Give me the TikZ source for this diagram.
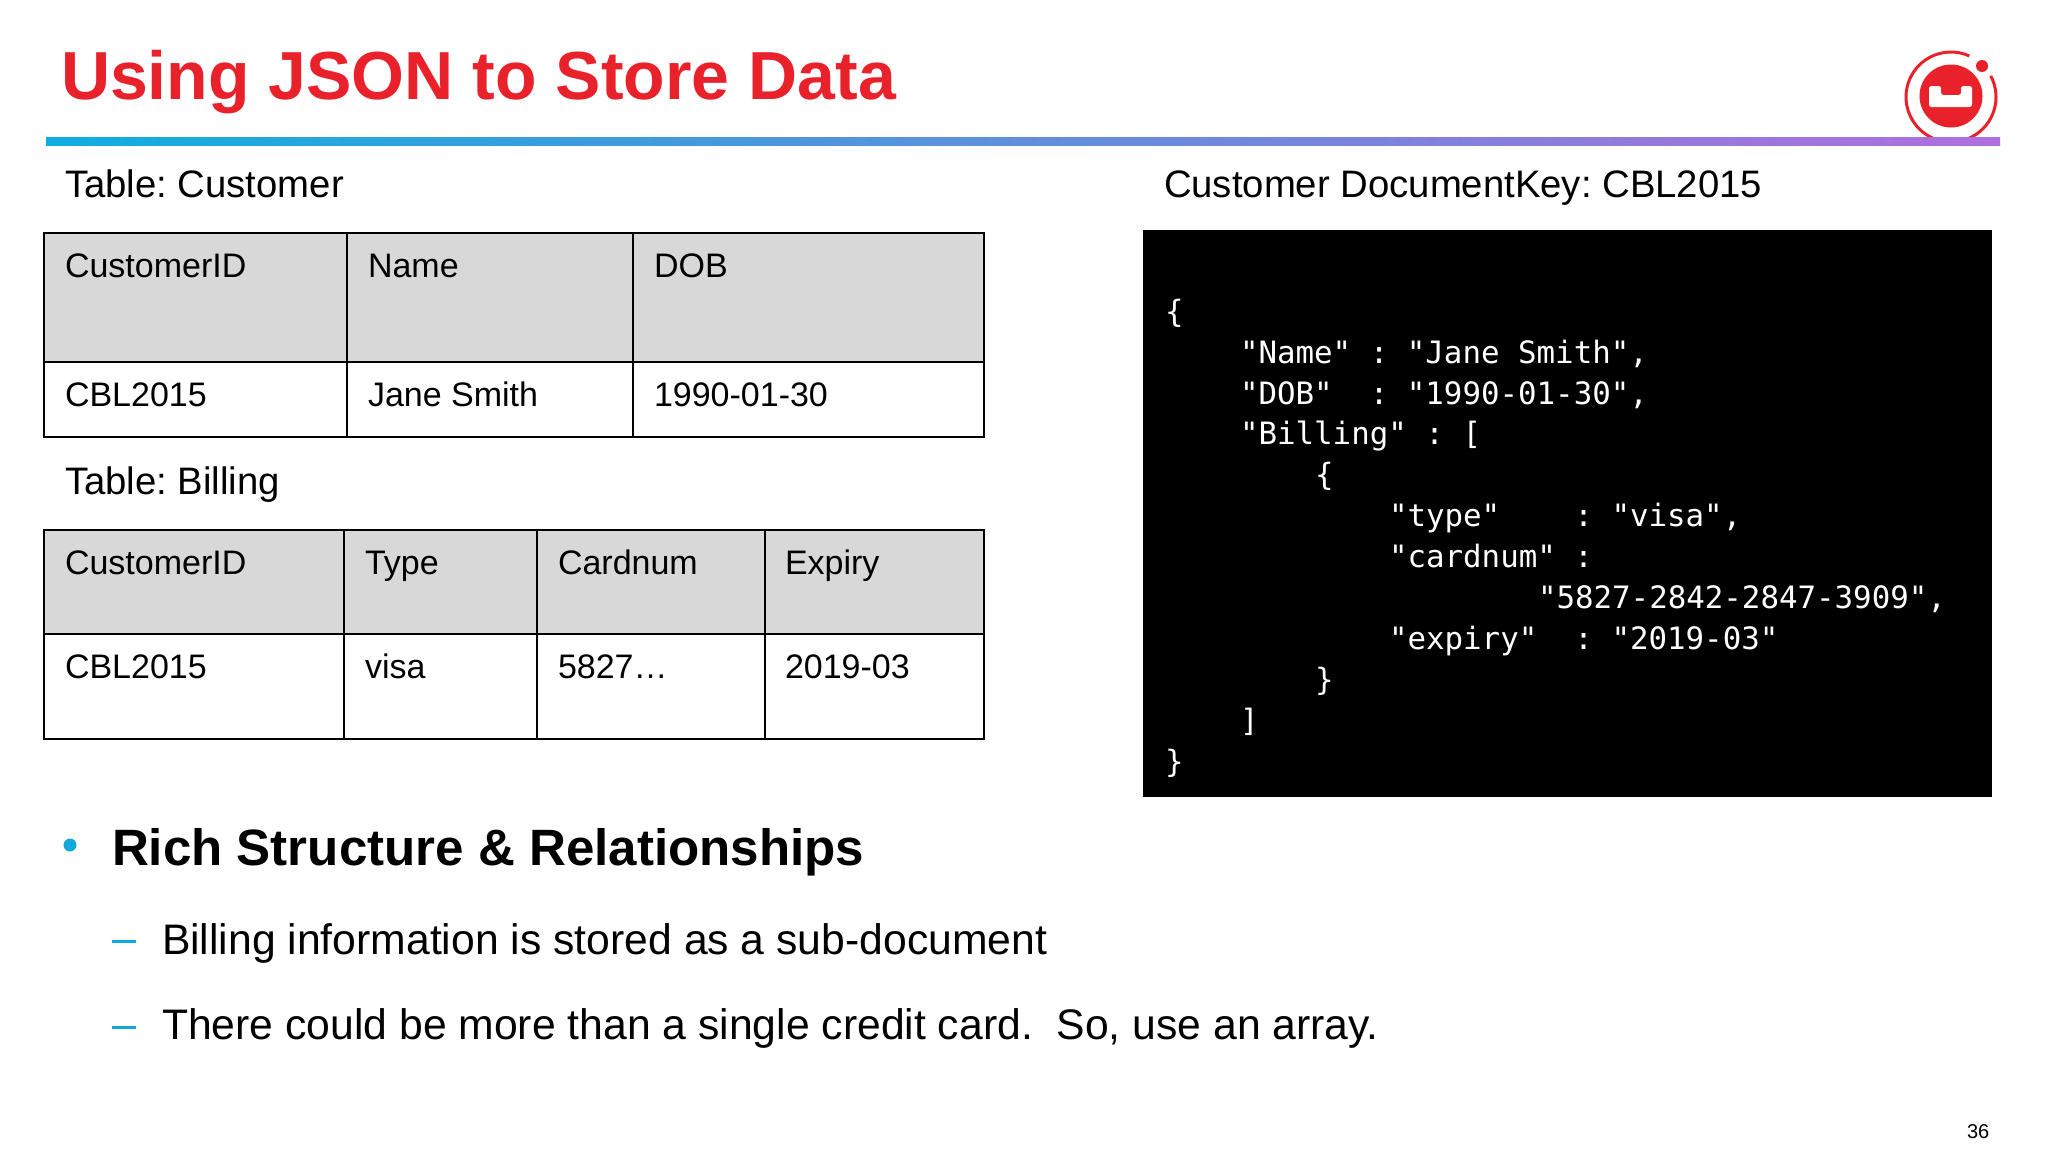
\documentclass[tikz,border=0pt]{standalone}
\usepackage{fontspec}
\setmainfont{Liberation Sans}
\newfontfamily\jsonfont{DejaVu Sans Mono}
\definecolor{titlered}{HTML}{E8212B}
\definecolor{barblue}{HTML}{0FAEDE}
\definecolor{barpurple}{HTML}{B06FDC}
\definecolor{accent}{HTML}{12A8DC}
\definecolor{headgrey}{HTML}{D9D8D9}
\newcommand{\pxfont}[1]{\fontsize{#1pt}{#1pt}\selectfont\frenchspacing}
\tikzset{
  base/.style={anchor=base west,inner sep=0pt,outer sep=0pt},
  titletext/.style={base,text=titlered,font=\pxfont{68}\bfseries},
  label/.style={base,text=black,font=\pxfont{38.3}},
  cell/.style={base,text=black,font=\pxfont{34}},
  bold/.style={base,text=black,font=\pxfont{51.1}\bfseries},
  sub/.style={base,text=black,font=\pxfont{42.7}},
  json/.style={base,text=white,font=\jsonfont\pxfont{30.8}},
  pagenum/.style={base,text=black,font=\pxfont{20}},
  head/.style={fill=headgrey,draw=black,line width=1.8pt},
  body/.style={fill=white,draw=black,line width=1.8pt},
  divider/.style={draw=black,line width=1.5pt},
}
\begin{document}
\begin{tikzpicture}[x=1pt,y=-1pt]
\useasboundingbox (0,0) rectangle (2048,1152);
\fill[white] (0,0) rectangle (2048,1152);

% logo
\begin{scope}[shift={(1951,97)},x=1pt,y=1pt]
  \draw[titlered,line width=3pt] (28:45) arc[start angle=28,end angle=-294,radius=45];
  \fill[titlered] (0,1) circle[radius=31.5];
  \fill[titlered] (31,31) circle[radius=6];
  \fill[white,rounded corners=2.5pt] (-22,-10) -- (-22,11) -- (-10,11) -- (-10,2) -- (10,2) -- (10,11) -- (21,11) -- (21,-10) -- cycle;
\end{scope}

% gradient rule
\shade[left color=barblue,right color=barpurple] (46,137) rectangle (2000,145);

\node[titletext] (title) at (61,99) {Using JSON to Store Data};

% customer table
\node[label] (custlabel) at (65,197) {Table: Customer};
\path[head] (44,233) rectangle (984,362);
\path[body] (44,362) rectangle (984,437);
\draw[divider] (347,233) -- (347,437);
\draw[divider] (633,233) -- (633,437);
\node[cell] (c1) at (65,277) {CustomerID};
\node[cell] (c2) at (368,277) {Name};
\node[cell] (c3) at (654,277) {DOB};
\node[cell] (c4) at (65,406) {CBL2015};
\node[cell] (c5) at (368,406) {Jane Smith};
\node[cell] (c6) at (654,406) {1990-01-30};

% billing table
\node[label] (billlabel) at (65,494) {Table: Billing};
\path[head] (44,530) rectangle (984,634);
\path[body] (44,634) rectangle (984,739);
\draw[divider] (344,530) -- (344,739);
\draw[divider] (537,530) -- (537,739);
\draw[divider] (765,530) -- (765,739);
\node[cell] (b1) at (65,574) {CustomerID};
\node[cell] (b2) at (365,574) {Type};
\node[cell] (b3) at (558,574) {Cardnum};
\node[cell] (b4) at (785,574) {Expiry};
\node[cell] (b5) at (65,678) {CBL2015};
\node[cell] (b6) at (365,678) {visa};
\node[cell] (b7) at (558,678) {5827…};
\node[cell] (b8) at (785,678) {2019-03};

% JSON panel
\node[label] (doclabel) at (1164,197) {Customer DocumentKey: CBL2015};
\fill[black] (1143,230) rectangle (1992,797);
\node[json] (j0) at (1165,322) {\{};
\node[json] (j1) at (1240,363) {"Name" : "Jane Smith",};
\node[json] (j2) at (1240,404) {"DOB"\ \ : "1990-01-30",};
\node[json] (j3) at (1240,444) {"Billing" : [};
\node[json] (j4) at (1315,485) {\{};
\node[json] (j5) at (1389,526) {"type"\ \ \ \ : "visa",};
\node[json] (j6) at (1389,567) {"cardnum" :};
\node[json] (j7) at (1538,608) {"5827-2842-2847-3909",};
\node[json] (j8) at (1389,649) {"expiry"\ \ : "2019-03"};
\node[json] (j9) at (1315,690) {\}};
\node[json] (j10) at (1240,731) {]};
\node[json] (j11) at (1165,772) {\}};

% bullets
\fill[accent] (70,845) circle[radius=6.5];
\node[bold] (r1) at (112,865) {Rich Structure \& Relationships};
\fill[accent] (112,940) rectangle (136,943);
\node[sub] (r2) at (162,954) {Billing information is stored as a sub-document};
\fill[accent] (112,1026) rectangle (136,1029);
\node[sub] (r3) at (162,1039) {There could be more than a single credit card.\ \ So, use an array.};

\node[pagenum] (num) at (1967,1138) {36};
\end{tikzpicture}
\end{document}
